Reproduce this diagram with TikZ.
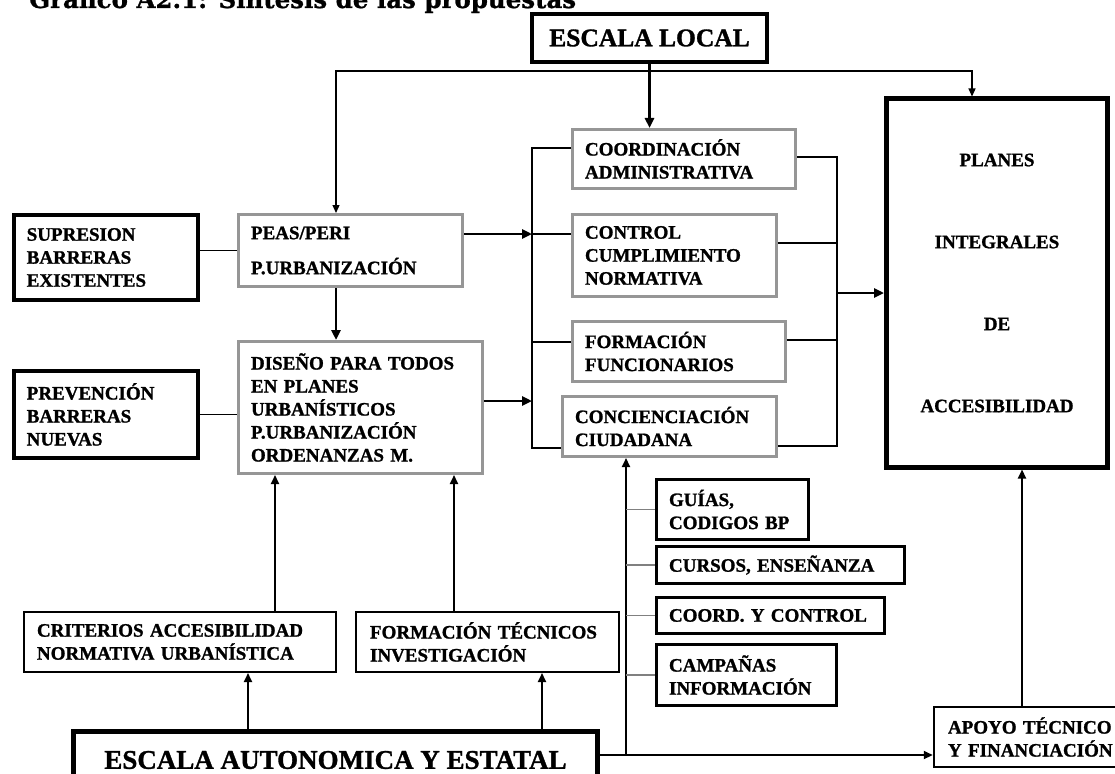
\documentclass[tikz,border=0pt]{standalone}
\usepackage{fontspec}
\setmainfont{Liberation Serif}[BoldFont={Liberation Serif Bold}, BoldFeatures={FakeBold=1.2}]
\newfontfamily\titlefont{DejaVu Serif Bold}[FakeBold=1]
\usetikzlibrary{arrows.meta}
\definecolor{boxgray}{RGB}{150,150,150}
\newcommand{\boxfont}{\fontsize{19}{23}\selectfont\bfseries}

\begin{document}
\begin{tikzpicture}[x=1pt, y=-1pt,
  every node/.style={font=\boxfont, inner ysep=0pt},
  graybox/.style={draw=boxgray, line width=3pt, align=left, inner xsep=12.5pt},
  blackbox/.style={draw=black, line width=#1, align=left, inner xsep=12.5pt},
  link/.style={line width=1.2pt},
  stub/.style={line width=1.2pt, draw=gray},
  thickarr/.style={line width=2.6pt, -{Triangle[length=10pt,width=9pt]}},
  medarr/.style={line width=2pt, -{Triangle[length=9pt,width=8pt]}},
  bothends/.style={line width=1.2pt, {Triangle[length=8pt,width=7pt]}-{Triangle[length=8pt,width=7pt]}}]
\useasboundingbox (0,0) rectangle (1115,773);

% title, cut by the page top
\node[font=\titlefont\fontsize{24.5}{25}\selectfont, anchor=base west, inner sep=0pt] (title) at (29,8) {Gráfico A2.1: Síntesis de las propuestas};

% scales
\node[draw, line width=4.5pt, minimum width=235pt, minimum height=48pt, inner sep=0pt,
  font=\fontsize{25.5}{28}\selectfont\bfseries] (local) at (649.5,38) {ESCALA LOCAL};
\node[draw, line width=5pt, minimum width=524pt, minimum height=57pt, inner sep=0pt,
  font=\fontsize{27}{30}\selectfont\bfseries] (autonom) at (335.5,760) {ESCALA AUTONOMICA Y ESTATAL};

% left column
\node[blackbox=4pt, text width=158.5pt, minimum height=85pt] (supr) at (106,257.5) {SUPRESION\\BARRERAS\\EXISTENTES};
\node[blackbox=4pt, text width=158.5pt, minimum height=87pt] (prev) at (106,414.5) {PREVENCIÓN\\BARRERAS\\NUEVAS};

% instruments
\node[graybox, text width=199pt, minimum height=72pt] (peas) at (350.5,250.5) {PEAS/PERI\\[12pt]P.URBANIZACIÓN};
\node[graybox, text width=219pt, minimum height=132pt] (disenio) at (360.5,407.5) {DISEÑO PARA TODOS\\EN PLANES\\URBANÍSTICOS\\P.URBANIZACIÓN\\ORDENANZAS M.};

% local actions
\node[graybox, text width=198pt, minimum height=59pt] (coord) at (684,159) {COORDINACIÓN\\ADMINISTRATIVA};
\node[graybox, text width=179pt, minimum height=82pt] (control) at (674.5,255.5) {CONTROL\\CUMPLIMIENTO\\NORMATIVA};
\node[graybox, text width=188pt, minimum height=60pt] (formf) at (679,351.5) {FORMACIÓN\\FUNCIONARIOS};
\node[graybox, text width=189pt, minimum height=60pt] (conc) at (669.5,426.5) {CONCIENCIACIÓN\\CIUDADANA};

% result
\node[draw, line width=5pt, minimum width=221pt, minimum height=368pt, align=center,
  font=\fontsize{19}{82}\selectfont\bfseries] (planes) at (997,283) {PLANES\\INTEGRALES\\DE\\ACCESIBILIDAD};

% awareness tools
\node[blackbox=3pt, text width=127pt, minimum height=60pt] (guias) at (732.5,509.5) {GUÍAS,\\CODIGOS BP};
\node[blackbox=3pt, text width=223pt, minimum height=37pt] (cursos) at (780.5,565) {CURSOS, ENSEÑANZA};
\node[blackbox=3pt, text width=203pt, minimum height=36pt] (coordc) at (770.5,615.5) {COORD. Y CONTROL};
\node[blackbox=3pt, text width=155pt, minimum height=61pt] (campanas) at (746.5,675) {CAMPAÑAS\\INFORMACIÓN};

% regional support
\node[blackbox=2pt, inner xsep=13pt, text width=286pt, minimum height=60pt] (criterios) at (180,642) {CRITERIOS ACCESIBILIDAD\\NORMATIVA URBANÍSTICA};
\node[blackbox=2pt, inner xsep=14pt, text width=235pt, minimum height=60pt] (formt) at (487.5,642) {FORMACIÓN TÉCNICOS\\INVESTIGACIÓN};
\node[blackbox=2.5pt, inner xsep=14pt, text width=180pt, minimum height=60pt] (apoyo) at (1038,737) {APOYO TÉCNICO\\Y FINANCIACIÓN};

% bus points
\coordinate (topL) at (336,71);
\coordinate (topR) at (972,71);
\coordinate (lb1) at (532,148);
\coordinate (lb2) at (532,234);
\coordinate (lb3) at (532,342);
\coordinate (lb5) at (532,401);
\coordinate (lb4) at (532,448);
\coordinate (rb1) at (837,157);
\coordinate (rb2) at (837,243);
\coordinate (rb3) at (837,340);
\coordinate (rbm) at (837,293);
\coordinate (rb4) at (837,446);
\coordinate (cb) at (626,755);
\coordinate (ua) at (275,0);
\coordinate (ub) at (454,0);
\coordinate (ea) at (248,0);
\coordinate (eb) at (542,0);
\coordinate (ap) at (1022,0);

% from the local scale
\draw[thickarr] (local.south) -- (local.south |- coord.north);
\draw[bothends] (peas.north -| topL) |- (topR) -- (planes.north -| topR);
\draw[thickarr] (peas.south -| topL) -- (disenio.north -| topL);
\draw[link] (supr.east |- peas.west) -- (peas.west);
\draw[link] (prev.east) -- (prev.east -| disenio.west);

% left bus
\draw[link] (coord.west |- lb1) -- (lb1) -- (lb4) -- (conc.west |- lb4);
\draw[link] (lb2) -- (control.west |- lb2);
\draw[link] (lb3) -- (formf.west |- lb3);
\draw[thickarr] (peas.east |- lb2) -- (lb2);
\draw[thickarr] (disenio.east |- lb5) -- (lb5);

% right bus
\draw[link] (coord.east |- rb1) -- (rb1) -- (rb4) -- (conc.east |- rb4);
\draw[link] (control.east |- rb2) -- (rb2);
\draw[link] (formf.east |- rb3) -- (rb3);
\draw[thickarr] (rbm) -- (rbm -| planes.west);

% from the regional scale
\draw[medarr] (autonom.east |- cb) -- (cb -| apoyo.west);
\draw[medarr] (cb) -- (cb |- conc.south);
\foreach \b in {guias, cursos, coordc, campanas}
  \draw[stub] (cb |- \b.west) -- (\b.west);
\draw[medarr] (criterios.north -| ua) -- (disenio.south -| ua);
\draw[medarr] (formt.north -| ub) -- (disenio.south -| ub);
\draw[medarr] (autonom.north -| ea) -- (criterios.south -| ea);
\draw[medarr] (autonom.north -| eb) -- (formt.south -| eb);
\draw[medarr] (apoyo.north -| ap) -- (planes.south -| ap);
\end{tikzpicture}
\end{document}
